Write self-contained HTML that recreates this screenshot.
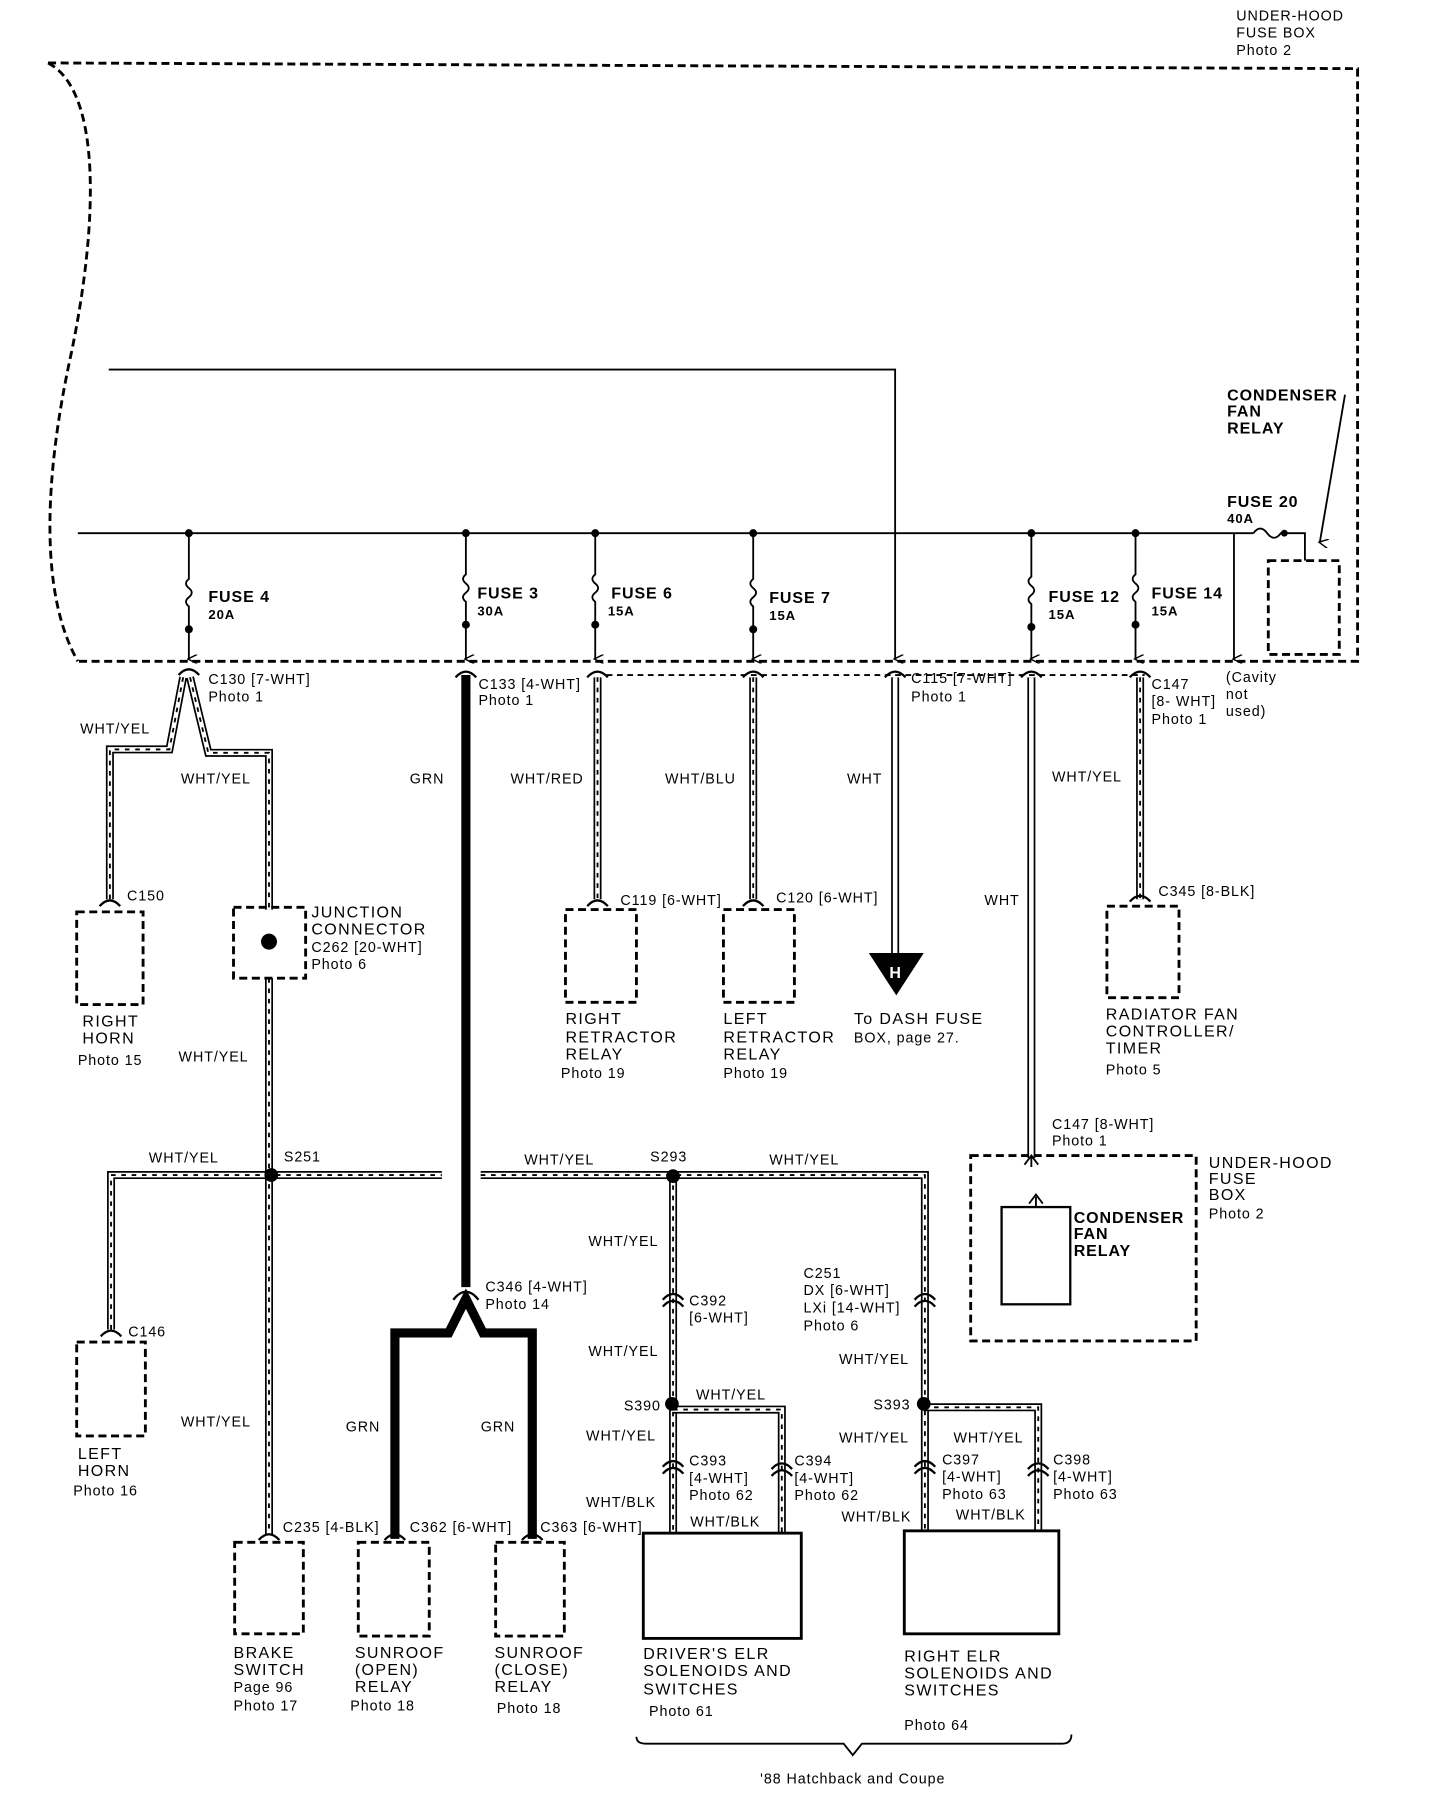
<!DOCTYPE html>
<html><head><meta charset="utf-8"><style>
html,body{margin:0;padding:0;background:#fff}
svg{display:block}
text{font-family:"Liberation Sans",sans-serif;font-size:12.5px;fill:#000;letter-spacing:0.8px}
.n{font-size:14px;letter-spacing:1.2px}
.b{font-weight:bold;font-size:14px;letter-spacing:0.8px}
.s{font-size:11.5px}
.dash{fill:none;stroke:#000;stroke-width:2.5;stroke-dasharray:7 4}
.ln{fill:none;stroke:#000;stroke-width:1.6}
.wo{fill:none;stroke:#000;stroke-width:7}
.wi{fill:none;stroke:#fff;stroke-width:4}
.wd{fill:none;stroke:#000;stroke-width:1.6;stroke-dasharray:4 5}
.g{fill:none;stroke:#000;stroke-width:8}
.c{fill:none;stroke:#000;stroke-width:2}
</style></head><body>
<svg width="1440" height="1794" viewBox="0 0 1258 1568" preserveAspectRatio="none" xmlns="http://www.w3.org/2000/svg">
<defs>
<marker id="ar" viewBox="0 0 10 10" refX="5" refY="9" markerWidth="8" markerHeight="10" orient="auto-start-reverse" markerUnits="userSpaceOnUse"><path d="M0,0 L5,10 L10,0" fill="none" stroke="#000" stroke-width="1.6"/></marker>
</defs>
<path class="dash" d="M42,55 L1186,60 L1186,578 L68,578"/>
<path class="dash" d="M42,55 C90,80 85,200 62,310 C38,420 35,520 68,578"/>
<text x="1080" y="18">UNDER-HOOD</text><text x="1080" y="33">FUSE BOX</text><text x="1080" y="48">Photo 2</text>
<path class="ln" d="M95,323 L782,323 L782,576" marker-end="url(#ar)"/>
<path class="ln" d="M68,466 L1095,466"/>
<path class="ln" d="M1095,466 q6,-8 12,0 q6,8 12,0 L1140,466 L1140,490"/>
<circle cx="1122" cy="466" r="3"/>
<rect class="c" x="1108" y="490" width="62" height="82" style="stroke-dasharray:7 4;stroke-width:2.5"/>
<path class="ln" d="M1175,345 L1153,474" marker-end="url(#ar)"/>
<text class="b" x="1072" y="350">CONDENSER</text><text class="b" x="1072" y="364">FAN</text><text class="b" x="1072" y="379">RELAY</text>
<text class="b" x="1072" y="443">FUSE 20</text><text class="s" x="1072" y="457" style="font-weight:bold">40A</text>
<path class="ln" d="M1078,466 L1078,576" marker-end="url(#ar)"/>
<g>
<circle cx="165" cy="466" r="3.5"/><circle cx="407" cy="466" r="3.5"/><circle cx="520" cy="466" r="3.5"/><circle cx="658" cy="466" r="3.5"/><circle cx="901" cy="466" r="3.5"/><circle cx="992" cy="466" r="3.5"/>
<circle cx="165" cy="550" r="3.5"/><circle cx="407" cy="546" r="3.5"/><circle cx="520" cy="546" r="3.5"/><circle cx="658" cy="550" r="3.5"/><circle cx="901" cy="548" r="3.5"/><circle cx="992" cy="546" r="3.5"/>
<path class="ln" d="M165,466 L165,506 q-5,4 0,8 q5,4 0,8 q-5,4 0,8 L165,576" marker-end="url(#ar)"/>
<path class="ln" d="M407,466 L407,502 q-5,4 0,8 q5,4 0,8 q-5,4 0,8 L407,576" marker-end="url(#ar)"/>
<path class="ln" d="M520,466 L520,502 q-5,4 0,8 q5,4 0,8 q-5,4 0,8 L520,576" marker-end="url(#ar)"/>
<path class="ln" d="M658,466 L658,506 q-5,4 0,8 q5,4 0,8 q-5,4 0,8 L658,576" marker-end="url(#ar)"/>
<path class="ln" d="M901,466 L901,504 q-5,4 0,8 q5,4 0,8 q-5,4 0,8 L901,576" marker-end="url(#ar)"/>
<path class="ln" d="M992,466 L992,502 q-5,4 0,8 q5,4 0,8 q-5,4 0,8 L992,576" marker-end="url(#ar)"/>
</g>
<text class="b" x="182" y="526">FUSE 4</text><text class="s" x="182" y="541" style="font-weight:bold">20A</text>
<text class="b" x="417" y="523">FUSE 3</text><text class="s" x="417" y="538" style="font-weight:bold">30A</text>
<text class="b" x="534" y="523">FUSE 6</text><text class="s" x="531" y="538" style="font-weight:bold">15A</text>
<text class="b" x="672" y="527">FUSE 7</text><text class="s" x="672" y="542" style="font-weight:bold">15A</text>
<text class="b" x="916" y="526">FUSE 12</text><text class="s" x="916" y="541" style="font-weight:bold">15A</text>
<text class="b" x="1006" y="523">FUSE 14</text><text class="s" x="1006" y="538" style="font-weight:bold">15A</text>
<path class="ln" style="stroke-dasharray:5 4" d="M530,590 L1000,590"/>
<g>
<path class="wo" d="M160,592 L148,655 L96,655 L96,786"/><path class="wi" d="M160,592 L148,655 L96,655 L96,786"/><path class="wd" d="M160,592 L148,655 L96,655 L96,786"/>
<path class="wo" d="M166,592 L182,658 L235,658 L235,795"/><path class="wi" d="M166,592 L182,658 L235,658 L235,795"/><path class="wd" d="M166,592 L182,658 L235,658 L235,795"/>
<path class="wo" d="M235,855 L235,1342"/><path class="wi" d="M235,855 L235,1342"/><path class="wd" d="M235,855 L235,1342"/>
<path class="wo" d="M97,1162 L97,1027 L386,1027"/><path class="wi" d="M97,1162 L97,1027 L386,1027"/><path class="wd" d="M97,1162 L97,1027 L386,1027"/>
<path class="wo" d="M420,1027 L808,1027 L808,1338"/><path class="wi" d="M420,1027 L808,1027 L808,1338"/><path class="wd" d="M420,1027 L808,1027 L808,1338"/>
<path class="wo" d="M522,592 L522,786"/><path class="wi" d="M522,592 L522,786"/><path class="wd" d="M522,592 L522,786"/>
<path class="wo" d="M658,592 L658,786"/><path class="wi" d="M658,592 L658,786"/><path class="wd" d="M658,592 L658,786"/>
<path class="wo" d="M996,592 L996,786"/><path class="wi" d="M996,592 L996,786"/><path class="wd" d="M996,592 L996,786"/>
<path class="wo" d="M588,1027 L588,1340"/><path class="wi" d="M588,1027 L588,1340"/><path class="wd" d="M588,1027 L588,1340"/>
<path class="wo" d="M588,1232 L683,1232 L683,1340"/><path class="wi" d="M588,1232 L683,1232 L683,1340"/><path class="wd" d="M588,1232 L683,1232 L683,1340"/>
<path class="wo" d="M807,1230 L907,1230 L907,1338"/><path class="wi" d="M807,1230 L907,1230 L907,1338"/><path class="wd" d="M807,1230 L907,1230 L907,1338"/>
</g>
<path class="wo" d="M782,592 L782,835"/><path class="wi" d="M782,592 L782,835"/>
<path d="M759,833 L807,833 L783,870 Z"/><text x="777" y="855" style="fill:#fff;font-weight:bold;font-size:14px">H</text>
<path class="wo" d="M901,592 L901,1012"/><path class="wi" d="M901,592 L901,1012"/>
<path class="g" d="M407,590 L407,1125"/>
<path class="g" d="M345,1345 L345,1165 L392,1165 L407,1135 L422,1165 L465,1165 L465,1345"/>
<g class="c">
<path d="M156,590 q9,-10 18,0"/><path d="M398,592 q9,-10 18,0"/><path d="M513,592 q9,-10 18,0"/><path d="M649,592 q9,-10 18,0"/><path d="M773,592 q9,-10 18,0"/><path d="M892,592 q9,-10 18,0"/><path d="M987,592 q9,-10 18,0"/>
<path d="M87,792 q9,-10 18,0"/><path d="M513,792 q9,-10 18,0"/><path d="M649,792 q9,-10 18,0"/><path d="M987,788 q9,-10 18,0"/>
<path d="M88,1168 q9,-10 18,0"/><path d="M226,1346 q9,-10 18,0"/><path d="M336,1346 q9,-10 18,0"/><path d="M456,1346 q9,-10 18,0"/>
<path d="M396,1136 q11,-14 22,0"/>
<path d="M579,1136 q9,-10 18,0"/><path d="M579,1142 q9,-10 18,0"/>
<path d="M799,1136 q9,-10 18,0"/><path d="M799,1142 q9,-10 18,0"/>
<path d="M579,1282 q9,-10 18,0"/><path d="M579,1288 q9,-10 18,0"/>
<path d="M674,1284 q9,-10 18,0"/><path d="M674,1290 q9,-10 18,0"/>
<path d="M799,1282 q9,-10 18,0"/><path d="M799,1288 q9,-10 18,0"/>
<path d="M898,1284 q9,-10 18,0"/><path d="M898,1290 q9,-10 18,0"/>
</g>
<rect class="dash" x="204" y="793" width="63" height="62"/>
<circle cx="235" cy="823" r="7"/>
<circle cx="237" cy="1027" r="6"/><circle cx="588" cy="1028" r="6"/><circle cx="587" cy="1227" r="6"/><circle cx="807" cy="1227" r="6"/>
<rect class="dash" x="67" y="797" width="58" height="81"/>
<rect class="dash" x="494" y="795" width="62" height="81"/>
<rect class="dash" x="632" y="795" width="62" height="81"/>
<rect class="dash" x="967" y="792" width="63" height="80"/>
<rect class="dash" x="67" y="1173" width="60" height="82"/>
<rect class="dash" x="205" y="1348" width="60" height="80"/>
<rect class="dash" x="313" y="1348" width="62" height="82"/>
<rect class="dash" x="433" y="1348" width="60" height="82"/>
<rect class="c" x="562" y="1340" width="138" height="92" style="stroke-width:2.5"/>
<rect class="c" x="790" y="1338" width="135" height="90" style="stroke-width:2.5"/>
<rect class="dash" x="848" y="1010" width="197" height="162"/>
<rect class="c" x="875" y="1055" width="60" height="85"/>
<path class="ln" d="M905,1055 L905,1046 M899,1052 L905,1044 L911,1052"/>
<path class="ln" d="M901,1020 L901,1010 M895,1018 L901,1010 L907,1018"/>
<path class="ln" d="M556,1518 q0,6 8,6 L737,1524 L745,1534 L753,1524 L928,1524 q8,0 8,-8"/>
<text x="182" y="598">C130 [7-WHT]</text><text x="182" y="613">Photo 1</text>
<text x="70" y="641">WHT/YEL</text><text x="158" y="685">WHT/YEL</text>
<text x="111" y="787">C150</text>
<text class="n" x="272" y="802">JUNCTION</text><text class="n" x="272" y="817">CONNECTOR</text><text x="272" y="832">C262 [20-WHT]</text><text x="272" y="847">Photo 6</text>
<text class="n" x="72" y="897">RIGHT</text><text class="n" x="72" y="912">HORN</text><text x="68" y="931">Photo 15</text>
<text x="156" y="928">WHT/YEL</text>
<text x="358" y="685">GRN</text>
<text x="418" y="602">C133 [4-WHT]</text><text x="418" y="616">Photo 1</text>
<text x="446" y="685">WHT/RED</text><text x="581" y="685">WHT/BLU</text><text x="740" y="685">WHT</text>
<text x="796" y="597">C115 [7-WHT]</text><text x="796" y="613">Photo 1</text>
<text x="1006" y="602">C147</text><text x="1006" y="617">[8- WHT]</text><text x="1006" y="633">Photo 1</text>
<text x="1071" y="596">(Cavity</text><text x="1071" y="611">not</text><text x="1071" y="626">used)</text>
<text x="919" y="683">WHT/YEL</text><text x="860" y="791">WHT</text>
<text x="542" y="791">C119 [6-WHT]</text><text x="678" y="789">C120 [6-WHT]</text><text x="1012" y="783">C345 [8-BLK]</text>
<text class="n" x="494" y="895">RIGHT</text><text class="n" x="494" y="911">RETRACTOR</text><text class="n" x="494" y="926">RELAY</text><text x="490" y="942">Photo 19</text>
<text class="n" x="632" y="895">LEFT</text><text class="n" x="632" y="911">RETRACTOR</text><text class="n" x="632" y="926">RELAY</text><text x="632" y="942">Photo 19</text>
<text class="n" x="746" y="895">To DASH FUSE</text><text x="746" y="911">BOX, page 27.</text>
<text class="n" x="966" y="891">RADIATOR FAN</text><text class="n" x="966" y="906">CONTROLLER/</text><text class="n" x="966" y="921">TIMER</text><text x="966" y="939">Photo 5</text>
<text x="919" y="987">C147 [8-WHT]</text><text x="919" y="1001">Photo 1</text>
<text class="n" x="1056" y="1021">UNDER-HOOD</text><text class="n" x="1056" y="1035">FUSE</text><text class="n" x="1056" y="1049">BOX</text><text x="1056" y="1065">Photo 2</text>
<text class="b" x="938" y="1069">CONDENSER</text><text class="b" x="938" y="1083">FAN</text><text class="b" x="938" y="1098">RELAY</text>
<text x="130" y="1016">WHT/YEL</text><text x="248" y="1015">S251</text><text x="458" y="1018">WHT/YEL</text><text x="568" y="1015">S293</text><text x="672" y="1018">WHT/YEL</text>
<text x="112" y="1168">C146</text>
<text class="n" x="68" y="1275">LEFT</text><text class="n" x="68" y="1290">HORN</text><text x="64" y="1307">Photo 16</text>
<text x="158" y="1247">WHT/YEL</text><text x="247" y="1339">C235 [4-BLK]</text>
<text x="424" y="1129">C346 [4-WHT]</text><text x="424" y="1144">Photo 14</text>
<text x="302" y="1251">GRN</text><text x="420" y="1251">GRN</text>
<text x="358" y="1339">C362 [6-WHT]</text><text x="472" y="1339">C363 [6-WHT]</text>
<text x="514" y="1089">WHT/YEL</text><text x="602" y="1141">C392</text><text x="602" y="1156">[6-WHT]</text>
<text x="514" y="1185">WHT/YEL</text><text x="545" y="1233">S390</text><text x="608" y="1223">WHT/YEL</text>
<text x="512" y="1259">WHT/YEL</text>
<text x="602" y="1281">C393</text><text x="602" y="1296">[4-WHT]</text><text x="602" y="1311">Photo 62</text>
<text x="694" y="1281">C394</text><text x="694" y="1296">[4-WHT]</text><text x="694" y="1311">Photo 62</text>
<text x="512" y="1317">WHT/BLK</text><text x="603" y="1334">WHT/BLK</text>
<text x="702" y="1117">C251</text><text x="702" y="1132">DX [6-WHT]</text><text x="702" y="1147">LXi [14-WHT]</text><text x="702" y="1163">Photo 6</text>
<text x="733" y="1192">WHT/YEL</text><text x="763" y="1232">S393</text>
<text x="733" y="1261">WHT/YEL</text><text x="833" y="1261">WHT/YEL</text>
<text x="823" y="1280">C397</text><text x="823" y="1295">[4-WHT]</text><text x="823" y="1310">Photo 63</text>
<text x="920" y="1280">C398</text><text x="920" y="1295">[4-WHT]</text><text x="920" y="1310">Photo 63</text>
<text x="735" y="1330">WHT/BLK</text><text x="835" y="1328">WHT/BLK</text>
<text class="n" x="204" y="1449">BRAKE</text><text class="n" x="204" y="1464">SWITCH</text><text x="204" y="1479">Page 96</text><text x="204" y="1495">Photo 17</text>
<text class="n" x="310" y="1449">SUNROOF</text><text class="n" x="310" y="1464">(OPEN)</text><text class="n" x="310" y="1479">RELAY</text><text x="306" y="1495">Photo 18</text>
<text class="n" x="432" y="1449">SUNROOF</text><text class="n" x="432" y="1464">(CLOSE)</text><text class="n" x="432" y="1479">RELAY</text><text x="434" y="1497">Photo 18</text>
<text class="n" x="562" y="1450">DRIVER'S ELR</text><text class="n" x="562" y="1465">SOLENOIDS AND</text><text class="n" x="562" y="1481">SWITCHES</text><text x="567" y="1500">Photo 61</text>
<text class="n" x="790" y="1452">RIGHT ELR</text><text class="n" x="790" y="1467">SOLENOIDS AND</text><text class="n" x="790" y="1482">SWITCHES</text><text x="790" y="1512">Photo 64</text>
<text x="745" y="1559" text-anchor="middle">'88 Hatchback and Coupe</text>
</svg>
</body></html>
